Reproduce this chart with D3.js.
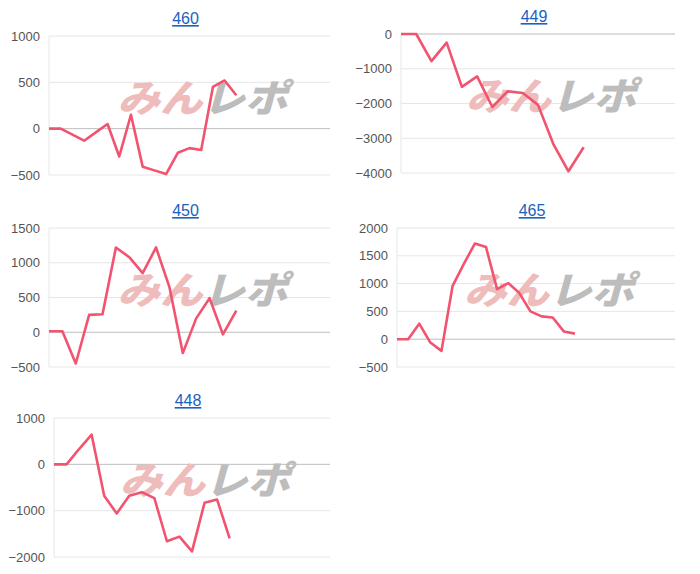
<!DOCTYPE html>
<html><head><meta charset="utf-8">
<script src="https://cdn.jsdelivr.net/npm/d3@7.9.0/dist/d3.min.js"></script>
<style>body{margin:0;background:#fff;font-family:"Liberation Sans",Arial,sans-serif;}</style>
</head><body><svg id="chart" width="700" height="574"></svg>
<script>
const titles = ['460', '449', '450', '465', '448'];
const slots = [25, 19, 22, 26, 23];
const yDomains = [[-500, 1000], [-4000, 0], [-500, 1500], [-500, 2000], [-2000, 1000]];
const yTicks = [
  [-500, 0, 500, 1000],
  [-4000, -3000, -2000, -1000, 0],
  [-500, 0, 500, 1000, 1500],
  [-500, 0, 500, 1000, 1500, 2000],
  [-2000, -1000, 0, 1000]
];
const series = [
  [0, 0, -65, -130, -40, 50, -300, 150, -410, -450, -490, -260, -210, -230, 450, 520, 360],
  [0, 0, -780, -250, -1520, -1220, -2100, -1650, -1700, -2040, -3160, -3950, -3260],
  [15, 15, -450, 250, 260, 1220, 1080, 850, 1220, 650, -300, 200, 490, -30, 310],
  [0, 0, 280, -60, -210, 960, 1350, 1720, 1660, 900, 1010, 830, 500, 410, 390, 140, 100],
  [0, 0, 330, 640, -680, -1060, -680, -600, -730, -1660, -1560, -1880, -830, -760, -1600]
];
const frames = [
  {x0: 49, x1: 330, y0: 36, y1: 175},
  {x0: 401, x1: 675, y0: 34, y1: 173},
  {x0: 49, x1: 330, y0: 228, y1: 367},
  {x0: 397, x1: 675, y0: 228, y1: 367},
  {x0: 54, x1: 330, y0: 418, y1: 557}
];

const svg = d3.select('#chart');

titles.forEach((t, i) => {
  const f = frames[i];
  const g = svg.append('g');
  const x = d3.scaleLinear().domain([0, slots[i] - 1]).range([f.x0, f.x1]);
  const y = d3.scaleLinear().domain(yDomains[i]).range([f.y1, f.y0]);

  // grid
  g.selectAll('line.grid').data(yTicks[i]).join('line')
    .attr('x1', f.x0).attr('x2', f.x1)
    .attr('y1', d => y(d)).attr('y2', d => y(d))
    .attr('stroke', d => d === 0 ? '#bdbdbd' : '#e6e6e6').attr('stroke-width', 1);
  g.append('line').attr('x1', f.x0).attr('x2', f.x0).attr('y1', f.y0).attr('y2', f.y1)
    .attr('stroke', '#e6e6e6');

  const axis = d3.axisLeft(y).tickValues(yTicks[i]).tickFormat(d3.format('d')).tickSize(0).tickPadding(9);
  const ag = g.append('g').attr('transform', `translate(${f.x0},0)`).call(axis);
  ag.select('.domain').remove();
  ag.selectAll('text').attr('fill', '#555').style('font-size', '13px')
    .style('font-family', '"Liberation Sans",Arial,sans-serif');

  // watermark
  const cx = (f.x0 + f.x1) / 2 + 13, cy = (f.y0 + f.y1) / 2 - 9;
  const wm = g.append('text').attr('x', cx - 85).attr('y', cy + 15)
    .attr('textLength', 170).attr('lengthAdjust', 'spacingAndGlyphs')
    .style('font-size', '38px').style('font-weight', '900').style('font-style', 'italic')
    .style('font-family', '"Noto Sans CJK JP",sans-serif');
  wm.append('tspan').attr('fill', '#efbcbc').text('みん');
  wm.append('tspan').attr('fill', '#bdbdbd').text('レポ');

  g.append('path').datum(series[i])
    .attr('fill', 'none').attr('stroke', '#f2536f').attr('stroke-width', 2.6)
    .attr('stroke-linejoin', 'round')
    .attr('d', d3.line().x((d, j) => x(j)).y(d => y(d)));

  g.append('text').attr('x', (f.x0 + f.x1) / 2 - 4).attr('y', f.y0 - 12)
    .attr('text-anchor', 'middle').attr('fill', '#1a62c0')
    .style('font-size', '16px').style('text-decoration', 'underline').text(t);
});
</script></body></html>
